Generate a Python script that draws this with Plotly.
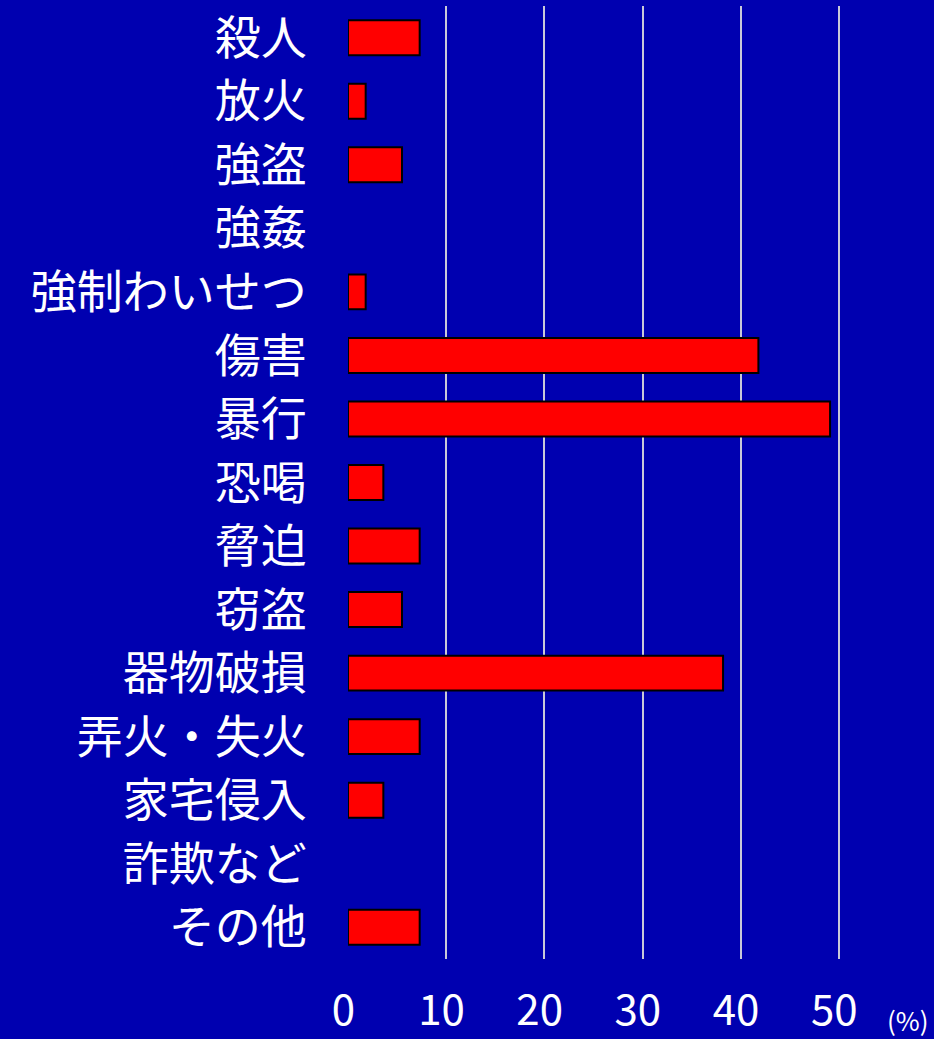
import plotly.graph_objects as go

# Offence categories (top to bottom) and share of cases in percent
categories = [
    "殺人", "放火", "強盗", "強姦", "強制わいせつ", "傷害", "暴行", "恐喝",
    "脅迫", "窃盗", "器物破損", "弄火・失火", "家宅侵入", "詐欺など", "その他",
]
percent = [7.3, 1.8, 5.5, 0.0, 1.8, 41.8, 49.1, 3.6, 7.3, 5.5, 38.2, 7.3, 3.6, 0.0, 7.3]

x_ticks = [0, 10, 20, 30, 40, 50]
unit_label = "(%)"

BG = "#0000B0"
GRID = "#C8C8D8"

# empty categories get no outline so nothing is drawn for them
outline_widths = [2 if v > 0 else 0 for v in percent]

fig = go.Figure(
    go.Bar(
        x=percent,
        y=categories,
        orientation="h",
        marker=dict(color="#FF0000", line=dict(color="#000000", width=outline_widths)),
        hoverinfo="skip",
    )
)

fig.update_layout(
    width=934,
    height=1039,
    margin=dict(l=348, r=46, t=6, b=80),
    paper_bgcolor=BG,
    plot_bgcolor=BG,
    bargap=0.45,
    showlegend=False,
    font=dict(family="Noto Sans CJK JP", color="white"),
)

fig.update_xaxes(
    range=[0, 55],
    tickvals=x_ticks,
    ticktext=[f"{v}\u00a0" for v in x_ticks],
    showgrid=True,
    gridcolor=GRID,
    gridwidth=2,
    zeroline=False,
    showline=False,
    ticks="outside",
    ticklen=15,
    tickcolor=BG,
    automargin=False,
    tickfont=dict(family="Noto Sans CJK JP", size=42, color="white"),
)

fig.update_yaxes(
    autorange="reversed",
    showgrid=False,
    zeroline=False,
    showline=False,
    ticks="outside",
    ticklen=31,
    tickcolor=BG,
    automargin=False,
    tickfont=dict(family="Noto Sans CJK JP", size=46, color="white"),
)

fig.add_annotation(
    x=1.037,
    xref="paper",
    y=-0.064,
    yref="paper",
    yanchor="middle",
    xanchor="center",
    showarrow=False,
    text=unit_label,
    font=dict(family="Noto Sans CJK JP", size=26, color="white"),
)

fig.write_html("out.html")
